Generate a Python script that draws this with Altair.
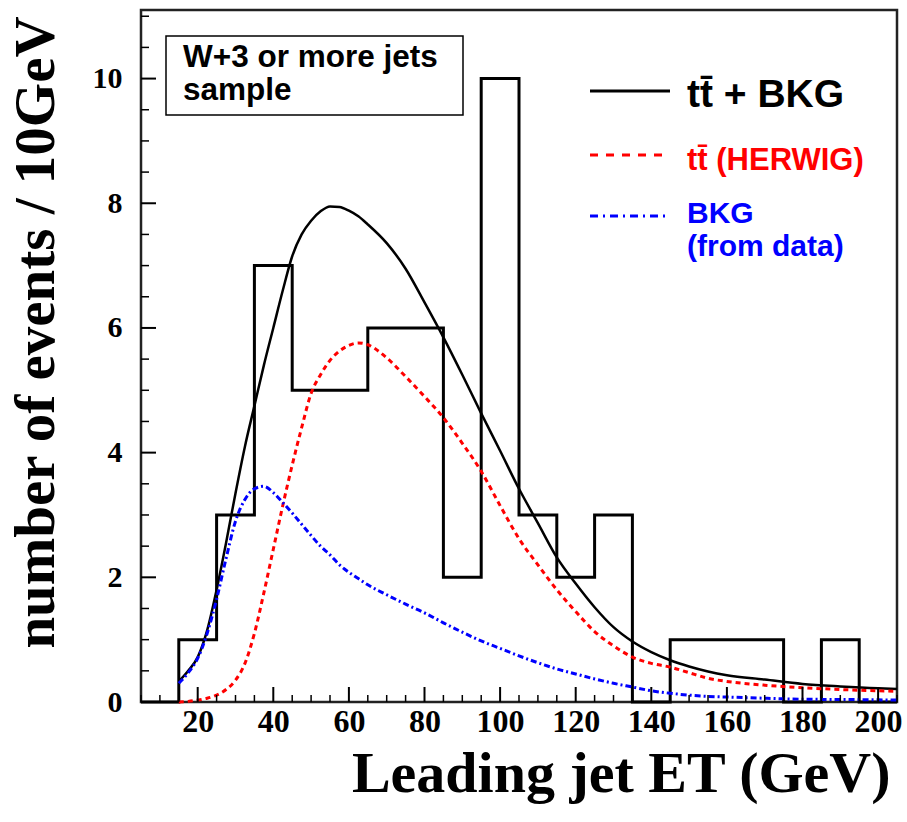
import altair as alt
import pandas as pd

# Observed histogram: 10 GeV bins, lower edges from 5 GeV
bin_low_et = [5, 15, 25, 35, 45, 55, 65, 75, 85, 95, 105, 115, 125, 135, 145, 155, 165, 175, 185, 195]
bin_counts = [0, 1, 3, 7, 5, 5, 6, 6, 2, 10, 3, 2, 3, 0, 1, 1, 1, 0, 1, 0]
et_max = 205

# Expected distributions (events / 10 GeV)
curve_et = [15, 17.5, 20, 22.5, 25, 27.5, 30, 32.5, 35, 37.5,
            40, 42.5, 45, 47.5, 50, 52.5, 55, 57.5, 60, 62.5,
            65, 70, 75, 80, 85, 90, 95, 100, 105, 110,
            115, 120, 125, 130, 135, 140, 145, 150, 155, 160,
            170, 180, 190, 200, 205]
total_vals = [0.33, 0.5, 0.72, 1.15, 1.8, 2.55, 3.35, 4.1, 4.75, 5.4,
              6.0, 6.6, 7.15, 7.5, 7.72, 7.87, 7.95, 7.94, 7.88, 7.79,
              7.66, 7.36, 6.95, 6.41, 5.85, 5.25, 4.63, 4.03, 3.42, 2.87,
              2.32, 1.9, 1.52, 1.2, 0.97, 0.8, 0.67, 0.57, 0.49, 0.43,
              0.36, 0.29, 0.25, 0.22, 0.21]
ttbar_vals = [0.0, 0.01, 0.03, 0.06, 0.11, 0.2, 0.35, 0.62, 1.1, 1.75,
              2.45, 3.15, 3.8, 4.4, 4.95, 5.25, 5.48, 5.63, 5.72, 5.76,
              5.73, 5.52, 5.22, 4.9, 4.56, 4.15, 3.7, 3.15, 2.62, 2.2,
              1.8, 1.45, 1.13, 0.9, 0.72, 0.62, 0.56, 0.47, 0.38, 0.33,
              0.27, 0.23, 0.2, 0.18, 0.17]
bkg_vals = [0.3, 0.47, 0.7, 1.1, 1.65, 2.3, 2.9, 3.25, 3.42, 3.46,
            3.36, 3.2, 3.03, 2.85, 2.67, 2.5, 2.36, 2.2, 2.08, 1.98,
            1.88, 1.72, 1.57, 1.43, 1.27, 1.12, 0.98, 0.86, 0.74, 0.63,
            0.53, 0.45, 0.37, 0.3, 0.24, 0.18, 0.14, 0.11, 0.09, 0.08,
            0.06, 0.045, 0.04, 0.035, 0.03]

x_major = [20, 40, 60, 80, 100, 120, 140, 160, 180, 200]
x_minor = [v for v in range(5, 206, 5) if v % 20 != 0]
y_major = [0, 2, 4, 6, 8, 10]
y_minor = [i * 0.5 for i in range(1, 23) if (i * 0.5) % 2 != 0]

W, H = 756, 692
SERIF = "Liberation Serif"
SANS = "Liberation Sans"
MAJOR_LEN, MINOR_LEN = 15, 8

xs = alt.Scale(domain=[5, 205], nice=False, zero=False)
ys = alt.Scale(domain=[0, 11.1], nice=False, zero=True)

hist_df = pd.DataFrame({
    "et": bin_low_et + [et_max],
    "n": bin_counts + [bin_counts[-1]],
})
total_df = pd.DataFrame({"et": curve_et, "n": total_vals})
ttbar_df = pd.DataFrame({"et": curve_et, "n": ttbar_vals})
bkg_df = pd.DataFrame({"et": curve_et, "n": bkg_vals})

x_axis = alt.Axis(
    values=x_major, ticks=False, tickSize=0, domain=False, grid=False,
    labelFont=SERIF, labelFontWeight="bold", labelFontSize=32, labelColor="black",
    labelPadding=4, labelFlush=False,
    title="Leading jet ET (GeV)", titleFont=SERIF, titleFontWeight="bold",
    titleFontSize=58, titleColor="black", titleAnchor="end", titleX=749,
    titleAlign="right", titlePadding=8,
)
y_axis = alt.Axis(
    values=y_major, ticks=False, tickSize=0, domain=False, grid=False,
    labelFont=SERIF, labelFontWeight="bold", labelFontSize=30, labelColor="black",
    labelPadding=19, labelFlush=False,
    title="number of events / 10GeV", titleFont=SERIF, titleFontWeight="bold",
    titleFontSize=57, titleColor="black", titleY=322, titlePadding=27,
)

hist = alt.Chart(hist_df).mark_line(
    interpolate="step-after", color="black", strokeWidth=3
).encode(
    x=alt.X("et:Q", scale=xs, axis=x_axis),
    y=alt.Y("n:Q", scale=ys, axis=y_axis),
)

total = alt.Chart(total_df).mark_line(
    interpolate="monotone", color="black", strokeWidth=2.5
).encode(
    x=alt.X("et:Q", scale=xs, axis=None),
    y=alt.Y("n:Q", scale=ys, axis=None),
)

ttbar = alt.Chart(ttbar_df).mark_line(
    interpolate="monotone", color="#ff0000", strokeWidth=3, strokeDash=[5, 4]
).encode(
    x=alt.X("et:Q", scale=xs, axis=None),
    y=alt.Y("n:Q", scale=ys, axis=None),
)

bkg = alt.Chart(bkg_df).mark_line(
    interpolate="monotone", color="#0000ff", strokeWidth=3, strokeDash=[6, 3, 2, 3]
).encode(
    x=alt.X("et:Q", scale=xs, axis=None),
    y=alt.Y("n:Q", scale=ys, axis=None),
)


# Inward-pointing tick marks along the bottom and left frame edges
def x_ticks(vals, length, width):
    return alt.Chart(pd.DataFrame({"v": vals})).mark_rule(
        color="black", strokeWidth=width
    ).encode(
        x=alt.X("v:Q", scale=xs, axis=None),
        y=alt.value(H - length), y2=alt.value(H),
    )


def y_ticks(vals, length, width):
    return alt.Chart(pd.DataFrame({"v": vals})).mark_rule(
        color="black", strokeWidth=width
    ).encode(
        y=alt.Y("v:Q", scale=ys, axis=None),
        x=alt.value(0), x2=alt.value(length),
    )


tick_layers = [
    x_ticks(x_major, MAJOR_LEN, 2),
    x_ticks(x_minor, MINOR_LEN - 1, 1.5),
    y_ticks(y_major, MAJOR_LEN, 2),
    y_ticks(y_minor, MINOR_LEN, 1.5),
]

one = alt.Data(values=[{}])

# Sample description box
box = alt.Chart(one).mark_rect(fill="white", stroke="black", strokeWidth=1.5).encode(
    x=alt.value(25), x2=alt.value(322), y=alt.value(26), y2=alt.value(105)
)


def label(text, x, y, size, color="black"):
    return alt.Chart(one).mark_text(
        text=text, font=SANS, fontWeight="bold", fontSize=size, color=color,
        align="left", baseline="alphabetic",
    ).encode(x=alt.value(x), y=alt.value(y))


def sample(y, color, dash=None, x2=529):
    kw = dict(color=color, strokeWidth=3)
    if dash:
        kw["strokeDash"] = dash
    return alt.Chart(one).mark_rule(**kw).encode(
        x=alt.value(449), x2=alt.value(x2), y=alt.value(y)
    )


legend_layers = [
    box,
    label("W+3 or more jets", 42, 57, 31.5),
    label("sample", 42, 90, 31.5),
    sample(81, "black"),
    label("tt\u0304 + BKG", 546, 97, 39),
    sample(145, "#ff0000", [8, 8], 527),
    label("tt\u0304 (HERWIG)", 546, 160, 31, "#ff0000"),
    sample(206, "#0000ff", [8, 5, 2, 5], 525),
    label("BKG", 546, 213, 30, "#0000ff"),
    label("(from data)", 546, 246, 30, "#0000ff"),
]

chart = alt.layer(hist, total, ttbar, bkg, *tick_layers, *legend_layers).resolve_axis(
    x="independent", y="independent"
).properties(
    width=W, height=H,
    autosize=alt.AutoSizeParams(type="none"),
    padding={"left": 141, "top": 10, "right": 10, "bottom": 120},
    background="white",
).configure_view(
    stroke="#222222", strokeWidth=2.5
)

chart.save("out.html", embed_options={"renderer": "svg", "actions": False})
